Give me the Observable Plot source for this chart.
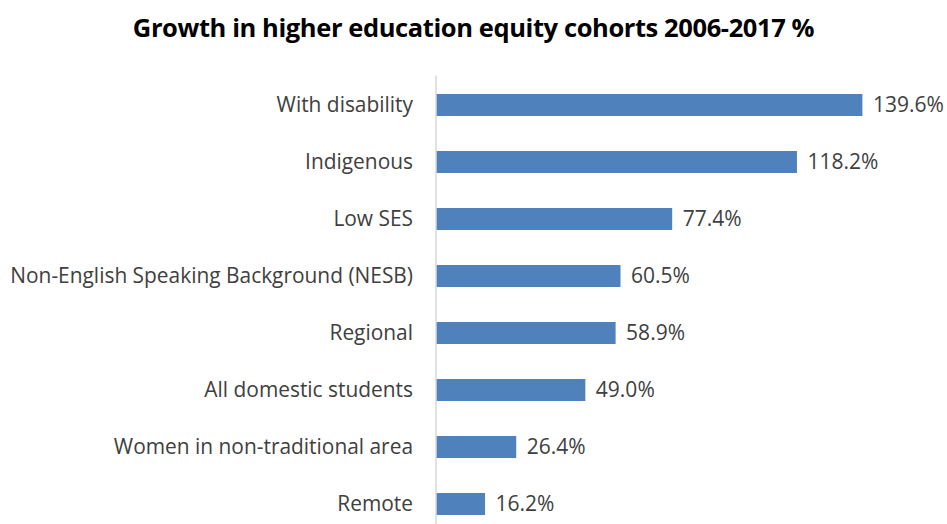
<!DOCTYPE html>
<html>
<head>
<meta charset="utf-8">
<script src="https://cdn.jsdelivr.net/npm/d3@7"></script>
<script src="https://cdn.jsdelivr.net/npm/@observablehq/plot@0.6"></script>
<style>
  html, body { margin: 0; padding: 0; background: #fff; overflow: hidden; width: 947px; height: 524px; }
  #title { height: 55px; width: 947px; text-align: center; font-family: "Open Sans", sans-serif; font-weight: bold; font-size: 25.5px; color: #000; line-height: 55px; letter-spacing: -0.4px; }
  #chart svg { display: block; }
</style>
</head>
<body>
<div id="title">Growth in higher education equity cohorts 2006-2017 %</div>
<div id="chart"></div>
<script>
const categories = ["With disability", "Indigenous", "Low SES", "Non-English Speaking Background (NESB)", "Regional", "All domestic students", "Women in non-traditional area", "Remote"];
const values = [139.6, 118.2, 77.4, 60.5, 58.9, 49.0, 26.4, 16.2];
const valueLabels = ["139.6%", "118.2%", "77.4%", "60.5%", "58.9%", "49.0%", "26.4%", "16.2%"];

const data = categories.map((c, i) => ({category: c, value: values[i], label: valueLabels[i]}));

const chart = Plot.plot({
  width: 947,
  height: 478,
  marginLeft: 435.5,
  marginRight: 52.8,
  marginTop: 20.4,
  marginBottom: 0,
  style: {fontFamily: "'Open Sans', sans-serif", fontSize: "20.9px", color: "#404040", background: "#fff"},
  x: {domain: [0, 150], axis: null},
  y: {domain: categories, paddingInner: 0.61, paddingOuter: 0.305, axis: null},
  marks: [
    Plot.ruleX([0], {stroke: "#d9d9d9", strokeWidth: 1.5}),
    Plot.barX(data, {x: "value", y: "category", fill: "#4f81bd", insetLeft: 1.2}),
    Plot.text(data, {x: 0, y: "category", text: "category", textAnchor: "end", dx: -23, fill: "#404040", fontSize: 20.9}),
    Plot.text(data, {x: "value", y: "category", text: "label", textAnchor: "start", dx: 10, fill: "#404040", fontSize: 21})
  ]
});
document.getElementById("chart").appendChild(chart);
</script>
</body>
</html>
